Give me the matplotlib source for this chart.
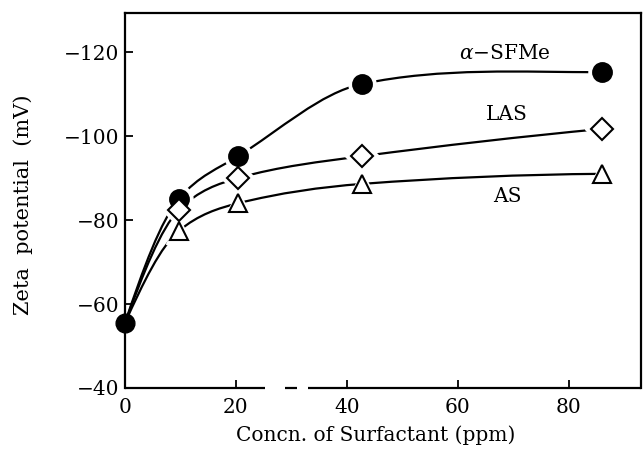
import numpy as np
import matplotlib
matplotlib.use("Agg")
import matplotlib.pyplot as plt
from matplotlib.path import Path
from matplotlib.patches import PathPatch
import matplotlib.transforms as mtransforms

plt.rcParams['font.family'] = ['DejaVu Serif']
plt.rcParams['mathtext.fontset'] = 'dejavuserif'

# data
conc = [0, 9.7, 20.4, 42.7, 86.0]
sfme = [-55.5, -85.0, -95.2, -112.4, -115.2]
las = [-55.5, -82.4, -90.0, -95.2, -101.7]
as_ = [-55.5, -77.4, -84.0, -88.6, -91.0]
yticks = [-120, -100, -80, -60, -40]
xticks = [0, 20, 40, 60, 80]


def smooth_path(x, y):
    # hermite tangents leaning on the right chord -> cubic bezier segments
    x = np.asarray(x, float)
    y = np.asarray(y, float)
    h = np.diff(x)
    d = np.diff(y) / h
    m = np.zeros_like(y)
    for i in range(1, len(x) - 1):
        m[i] = 0.3 * d[i - 1] + 0.7 * d[i]
    m[0] = 1.3 * d[0]
    m[-1] = 2 * d[-1] - m[-2]
    if m[-1] * d[-1] < 0:
        m[-1] = 0.0
    verts = [(x[0], y[0])]
    codes = [Path.MOVETO]
    for i in range(len(x) - 1):
        verts += [(x[i] + h[i] / 3, y[i] + m[i] * h[i] / 3),
                  (x[i + 1] - h[i] / 3, y[i + 1] - m[i + 1] * h[i] / 3),
                  (x[i + 1], y[i + 1])]
        codes += [Path.CURVE4] * 3
    return Path(verts, codes)


fig = plt.figure(figsize=(6.43, 4.53), dpi=100)
ax = fig.add_axes([0.1944, 0.1435, 0.8025, 0.8278])

series = [
    (sfme, 'o', 'black', 13.5),
    (las, 'D', 'white', 11),
    (as_, '^', 'white', 12.5),
]
for ys, mk, fc, ms in series:
    ax.add_patch(PathPatch(smooth_path(conc, ys), fill=False, lw=1.6,
                           ec='black', zorder=2))
    ax.plot(conc[1:], ys[1:], ls='none', marker=mk, ms=ms + 6, mfc='white',
            mec='white', zorder=3)
    ax.plot(conc[1:], ys[1:], ls='none', marker=mk, ms=ms, mfc=fc,
            mec='black', mew=1.5, zorder=4)

# common starting point on the axis
ax.plot([conc[0]], [sfme[0]], ls='none', marker='o', ms=13.5, mfc='black',
        mec='black', zorder=5, clip_on=False)

fs = 14.5
ax.text(68.5, -119.7, r'$\alpha$' + '\u2212SFMe', fontsize=fs, ha='center', va='center')
ax.text(68.8, -105.2, 'LAS', fontsize=fs, ha='center', va='center')
ax.text(69.0, -85.5, 'AS', fontsize=fs, ha='center', va='center')

ax.set_xlim(0, 93)
ax.set_ylim(-40, -129.3)
ax.set_xticks(xticks)
ax.set_xticklabels([str(v) for v in xticks])
ax.set_yticks(yticks)
ax.set_yticklabels(['\u2212' + str(-v) for v in yticks])
ax.tick_params(direction='in', length=6, width=1.3, labelsize=fs, pad=4)
ax.tick_params(axis='x', pad=7)

for s in ['left', 'top', 'right']:
    ax.spines[s].set_linewidth(1.6)
ax.spines['bottom'].set_visible(False)

# broken bottom axis
trans = mtransforms.blended_transform_factory(ax.transData, ax.transAxes)
for x0, x1 in [(0, 25.2), (28.8, 31.0), (33.0, 93)]:
    ax.plot([x0, x1], [0, 0], color='black', lw=1.6, transform=trans,
            clip_on=False, solid_capstyle='butt', zorder=6)

ax.set_xlabel('Concn. of Surfactant (ppm)', fontsize=fs, labelpad=6)
ax.xaxis.label.set_x(0.485)
ax.set_ylabel('Zeta  potential  (mV)', fontsize=15, labelpad=22)
ax.yaxis.label.set_y(0.488)

fig.savefig('out.png', dpi=100)
